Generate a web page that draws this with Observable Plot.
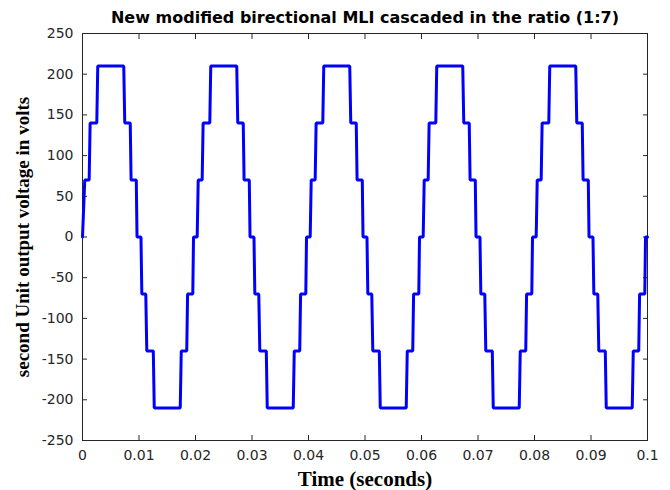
<!DOCTYPE html>
<html><head><meta charset="utf-8">
<script src="https://cdn.jsdelivr.net/npm/d3@7"></script>
<script src="https://cdn.jsdelivr.net/npm/@observablehq/plot@0.6"></script>
<style>body{margin:0;background:#fff}</style>
</head><body><div id="chart"></div>
<script>
const title = "New modified birectional MLI cascaded in the ratio (1:7)";
const xLabel = "Time (seconds)";
const yLabel = "second Unit output voltage in volts";

const xTicks = [0, 0.01, 0.02, 0.03, 0.04, 0.05, 0.06, 0.07, 0.08, 0.09, 0.1];
const xTickLabels = ["0", "0.01", "0.02", "0.03", "0.04", "0.05", "0.06", "0.07", "0.08", "0.09", "0.1"];
const yTicks = [-250, -200, -150, -100, -50, 0, 50, 100, 150, 200, 250];
const yTickLabels = ["-250", "-200", "-150", "-100", "-50", "0", "50", "100", "150", "200", "250"];

// time (s) and voltage (V)
const time = [
  0, 0.0004, 0.00118, 0.00135, 0.00253, 0.0027, 0.0073, 0.00748, 0.00845, 0.0086, 0.00952, 0.00965,
  0.01035, 0.0105, 0.0112, 0.01138, 0.01253, 0.0127, 0.0173, 0.01748, 0.01845, 0.0186, 0.01952, 0.01965,
  0.0203, 0.02048, 0.02118, 0.02135, 0.02253, 0.0227, 0.0273, 0.02748, 0.02845, 0.0286, 0.02952, 0.02965,
  0.03035, 0.0305, 0.0312, 0.03138, 0.03253, 0.0327, 0.0373, 0.03748, 0.03845, 0.0386, 0.03952, 0.03965,
  0.0403, 0.04048, 0.04118, 0.04135, 0.04253, 0.0427, 0.0473, 0.04748, 0.04845, 0.0486, 0.04952, 0.04965,
  0.05035, 0.0505, 0.0512, 0.05138, 0.05253, 0.0527, 0.0573, 0.05748, 0.05845, 0.0586, 0.05952, 0.05965,
  0.0603, 0.06048, 0.06118, 0.06135, 0.06253, 0.0627, 0.0673, 0.06748, 0.06845, 0.0686, 0.06952, 0.06965,
  0.07035, 0.0705, 0.0712, 0.07138, 0.07253, 0.0727, 0.0773, 0.07748, 0.07845, 0.0786, 0.07952, 0.07965,
  0.0803, 0.08048, 0.08118, 0.08135, 0.08253, 0.0827, 0.0873, 0.08748, 0.08845, 0.0886, 0.08952, 0.08965,
  0.09035, 0.0905, 0.0912, 0.09138, 0.09253, 0.0927, 0.0973, 0.09748, 0.09845, 0.0986, 0.09952, 0.09965,
  0.1
];
const volts = [
  0, 70, 70, 140, 140, 210, 210, 140, 140, 70, 70, 0,
  0, -70, -70, -140, -140, -210, -210, -140, -140, -70, -70, 0,
  0, 70, 70, 140, 140, 210, 210, 140, 140, 70, 70, 0,
  0, -70, -70, -140, -140, -210, -210, -140, -140, -70, -70, 0,
  0, 70, 70, 140, 140, 210, 210, 140, 140, 70, 70, 0,
  0, -70, -70, -140, -140, -210, -210, -140, -140, -70, -70, 0,
  0, 70, 70, 140, 140, 210, 210, 140, 140, 70, 70, 0,
  0, -70, -70, -140, -140, -210, -210, -140, -140, -70, -70, 0,
  0, 70, 70, 140, 140, 210, 210, 140, 140, 70, 70, 0,
  0, -70, -70, -140, -140, -210, -210, -140, -140, -70, -70, 0,
  0
];

const data = time.map((t, i) => ({t, v: volts[i]}));
const axisColor = "#262626";
const sans = "'DejaVu Sans', Arial, Helvetica, sans-serif";
const serif = "'Liberation Serif', 'Times New Roman', serif";

const chart = Plot.plot({
  width: 670,
  height: 490,
  marginLeft: 82,
  marginRight: 23,
  marginTop: 33,
  marginBottom: 50,
  x: {domain: [0, 0.1]},
  y: {domain: [-250, 250]},
  style: {background: "#fff", fontFamily: sans, color: axisColor},
  marks: [
    Plot.frame({stroke: axisColor, strokeWidth: 1}),
    Plot.axisX(xTicks, {anchor: "bottom", tickSize: 0, tickPadding: 10, tickFormat: d => xTickLabels[xTicks.indexOf(d)], fontSize: 14, fontFamily: sans, fill: axisColor, label: null}),
    Plot.axisX(xTicks, {anchor: "bottom", tickSize: -5, tickFormat: () => "", stroke: axisColor, label: null}),
    Plot.axisX(xTicks, {anchor: "top", tickSize: -5, tickFormat: () => "", stroke: axisColor, label: null}),
    Plot.axisY(yTicks, {anchor: "left", tickSize: 0, tickPadding: 9, tickFormat: d => yTickLabels[yTicks.indexOf(d)], fontSize: 14, fontFamily: sans, fill: axisColor, label: null}),
    Plot.axisY(yTicks, {anchor: "left", tickSize: -5, tickFormat: () => "", stroke: axisColor, label: null}),
    Plot.axisY(yTicks, {anchor: "right", tickSize: -5, tickFormat: () => "", stroke: axisColor, label: null}),
    Plot.line(data, {x: "t", y: "v", stroke: "#0000ff", strokeWidth: 3, strokeLinejoin: "miter"}),
    Plot.text([title], {text: d => d, frameAnchor: "top", lineAnchor: "middle", dy: -16, fontSize: 16, fontWeight: "bold", fontFamily: sans, fill: "#000"}),
    Plot.text([xLabel], {text: d => d, frameAnchor: "bottom", lineAnchor: "middle", dy: 39, fontSize: 21, fontWeight: "bold", fontFamily: serif, fill: "#000"}),
    Plot.text([yLabel], {text: d => d, frameAnchor: "left", textAnchor: "middle", lineAnchor: "middle", rotate: -90, dx: -60, fontSize: 19, fontWeight: "bold", fontFamily: serif, fill: "#000"})
  ]
});
document.getElementById("chart").appendChild(chart);
</script>
</body></html>
